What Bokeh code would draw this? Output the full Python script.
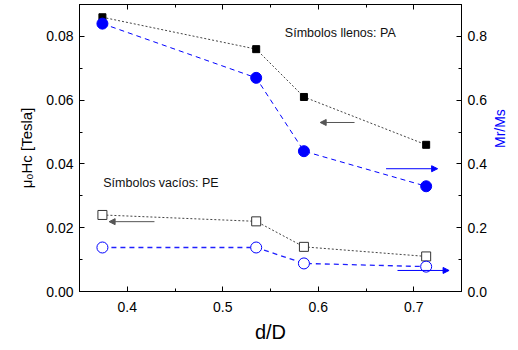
import math
from bokeh.plotting import figure
from bokeh.models import (Range1d, LinearAxis, SingleIntervalTicker, Arrow, NormalHead,
                          Label, PrintfTickFormatter, CustomJSTickFormatter)
from bokeh.embed import file_html
from bokeh.resources import INLINE

# data
d_ratio = [0.374, 0.535, 0.585, 0.713]
hc_pa = [0.086, 0.076, 0.061, 0.046]
mrms_pa = [0.84, 0.67, 0.44, 0.33]
hc_pe = [0.024, 0.022, 0.014, 0.011]
mrms_pe = [0.138, 0.138, 0.088, 0.078]

# arrows indicating the axis each series belongs to: (x_start, x_end, y)
arrow_hc_pa = (0.638, 0.602, 0.053)
arrow_mr_pa = (0.671, 0.725, 0.385)
arrow_hc_pe = (0.4285, 0.381, 0.0219)
arrow_mr_pe = (0.683, 0.737, 0.066)

FONT = "Liberation Sans"

p = figure(width=518, height=350, output_backend="svg", toolbar_location=None,
           x_range=Range1d(0.35, 0.75), y_range=Range1d(0, 0.09),
           min_border_left=79, min_border_right=53, min_border_top=4,
           min_border_bottom=59)
p.extra_y_ranges = {"mr": Range1d(0, 0.9)}
p.xgrid.visible = False
p.ygrid.visible = False
p.outline_line_color = "black"
p.outline_line_width = 1
p.background_fill_color = "white"
p.border_fill_color = "white"

def style(ax, interval, nminor, fmt):
    ax.ticker = SingleIntervalTicker(interval=interval, num_minor_ticks=nminor)
    ax.formatter = PrintfTickFormatter(format=fmt)
    ax.major_tick_in = 5
    ax.major_tick_out = 0
    ax.minor_tick_in = 3
    ax.minor_tick_out = 0
    ax.axis_line_color = "black"
    ax.major_tick_line_color = "black"
    ax.minor_tick_line_color = "black"
    ax.major_label_text_font = FONT
    ax.major_label_text_font_size = "14px"
    ax.major_label_text_color = "black"
    ax.axis_label_text_font = FONT
    ax.axis_label_text_font_style = "normal"
    ax.axis_label_text_color = "black"

xa = p.xaxis[0]
style(xa, 0.1, 2, "%.1f")
xa.major_label_standoff = 10
xa.axis_label = "d/D"
xa.axis_label_text_font_size = "20px"
xa.axis_label_standoff = 6

ya = p.yaxis[0]
style(ya, 0.02, 2, "%.2f")
ya.major_label_standoff = 6
ya.axis_label = "μ₀Hc [Tesla]"
ya.axis_label_text_font_size = "15px"
ya.axis_label_standoff = 8

ra = LinearAxis(y_range_name="mr")
style(ra, 0.2, 2, "%.1f")
ra.major_label_standoff = 6
ra.axis_label = "Mr/Ms"
ra.axis_label_text_color = "blue"
ra.axis_label_text_font_size = "14px"
ra.axis_label_standoff = 10
ra.axis_label_orientation = math.pi / 2
p.add_layout(ra, "right")

ta = LinearAxis()
style(ta, 0.1, 2, "%.1f")
ta.formatter = CustomJSTickFormatter(code="return ''")
ta.major_label_standoff = 0
p.add_layout(ta, "above")

# series
p.line(d_ratio, hc_pa, line_color="#444444", line_dash="2 2", line_width=1)
p.scatter(d_ratio, hc_pa, marker="square", size=7, fill_color="black", line_color="black")

p.line(d_ratio, mrms_pa, line_color="blue", line_dash="5 4", line_width=1, y_range_name="mr")
p.scatter(d_ratio, mrms_pa, marker="circle", size=11, fill_color="blue", line_color="blue",
          y_range_name="mr")

p.line(d_ratio, hc_pe, line_color="#444444", line_dash="2 2", line_width=1)
p.scatter(d_ratio, hc_pe, marker="square", size=9, fill_color="white", line_color="#333333")

p.line(d_ratio, mrms_pe, line_color="#2020ff", line_dash="5 4", line_width=1.3, y_range_name="mr")
p.scatter(d_ratio, mrms_pe, marker="circle", size=11, fill_color="white", line_color="blue",
          y_range_name="mr")

def arrow(spec, color, yname="default"):
    x0, x1, y = spec
    p.add_layout(Arrow(x_start=x0, x_end=x1, y_start=y, y_end=y, line_color=color,
                       line_width=1, y_range_name=yname,
                       end=NormalHead(size=6, fill_color=color, line_color=color)))

arrow(arrow_hc_pa, "#555555")
arrow(arrow_mr_pa, "blue", "mr")
arrow(arrow_hc_pe, "#555555")
arrow(arrow_mr_pe, "blue", "mr")

p.add_layout(Label(x=0.565, y=0.0812, text="Símbolos llenos: PA", text_font=FONT,
                   text_font_size="12.5px", text_baseline="middle", text_color="#111111"))
p.add_layout(Label(x=0.3749, y=0.0339, text="Símbolos vacíos: PE", text_font=FONT,
                   text_font_size="12.5px", text_baseline="middle", text_color="#111111"))

open("out.html", "w").write(file_html(p, INLINE))
